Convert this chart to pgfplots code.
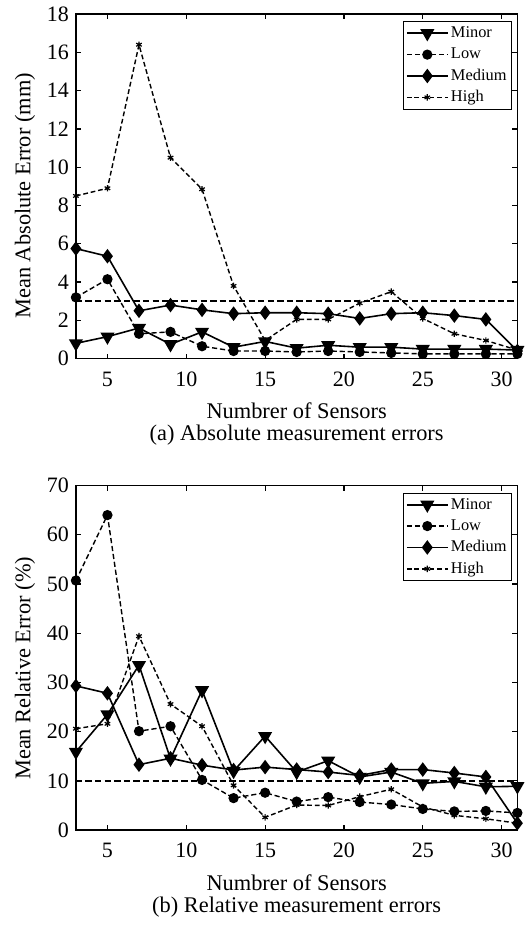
\documentclass[border=0pt]{standalone}
\usepackage{fontspec}
\setmainfont{Liberation Serif}
\usepackage{pgfplots}
\usepackage{pgfplotstable}
\pgfplotsset{compat=1.18}

\pgfplotstableread{
x minor low medium high
3  0.80 3.20 5.75 8.50
5  1.15 4.15 5.35 8.90
7  1.60 1.30 2.50 16.40
9  0.75 1.40 2.80 10.50
11 1.40 0.65 2.55 8.85
13 0.60 0.40 2.35 3.80
15 0.90 0.40 2.40 0.95
17 0.55 0.35 2.40 2.05
19 0.70 0.40 2.35 2.05
21 0.60 0.35 2.10 2.90
23 0.60 0.30 2.35 3.50
25 0.50 0.25 2.40 2.10
27 0.50 0.25 2.25 1.30
29 0.50 0.25 2.05 0.95
31 0.45 0.25 0.40 0.45
}\tabA

\pgfplotstableread{
x minor low medium high
3  15.9 50.7 29.3 20.6
5  23.5 64.0 27.8 21.6
7  33.5 20.1 13.3 39.4
9  14.5 21.1 14.6 25.6
11 28.4 10.2 13.2 21.1
13 12.0 6.5  12.2 9.1
15 19.1 7.6  12.8 2.6
17 11.8 5.8  12.3 5.1
19 14.1 6.7  11.8 5.0
21 10.8 5.7  11.1 6.8
23 11.8 5.2  12.3 8.3
25 9.5  4.3  12.3 4.7
27 9.9  3.8  11.6 3.0
29 8.8  3.9  10.8 2.3
31 8.9  3.5  1.4  1.4
}\tabB

\pgfplotsset{
  myaxis/.style={
    scale only axis, width=221pt, height=172.5pt,
    anchor=south west,
    xmin=3, xmax=31, xtick={5,10,...,30},
    tick align=inside, xtick pos=both, ytick pos=both,
    major tick length=2.5pt,
    axis line style={line width=0.7pt},
    every tick/.style={black, line width=0.6pt},
    /pgf/number format/assume math mode=true,
    tick label style={font=\fontsize{11}{13}\selectfont},
    xticklabel style={yshift=-3pt},
    label style={font=\fontsize{11.2}{13}\selectfont},
    xlabel style={at={(axis description cs:0.5,0)}, anchor=base, yshift=-30pt},
    clip=false,
    legend cell align=left,
    legend style={at={(axis description cs:1,1)}, anchor=north east,
      xshift=-2.5pt, yshift=-3.5pt,
      font=\fontsize{8.2}{9}\selectfont, draw=black, line width=0.5pt,
      inner xsep=1.5pt, inner ysep=0.5pt,
      nodes={inner sep=1.2pt, text height=6.3pt, text depth=2pt}},
    legend image code/.code={\draw[mark repeat=2,mark phase=2,##1] plot coordinates {(0pt,0pt) (10.25pt,0pt) (20.5pt,0pt)};},
  },
  sMinor/.style={black, solid, line width=0.8pt, mark=triangle*, mark size=3.3pt, mark options={rotate=180, solid, fill=black}},
  sLow/.style={black, dash pattern=on 2.6pt off 1.4pt, line width=0.7pt, mark=*, mark size=2.2pt, mark options={solid, fill=black}},
  sMed/.style={black, solid, line width=0.8pt, mark=diamond*, mark size=3pt, mark options={solid, fill=black}},
  sHigh/.style={black, dash pattern=on 2.4pt off 1.4pt, line width=0.7pt, mark=asterisk, mark size=1.6pt, mark options={solid, line width=0.6pt}},
  sRef/.style={black, dash pattern=on 3.2pt off 1.6pt, line width=0.9pt, no marks},
}

\begin{document}
\begin{tikzpicture}
\path (-38pt,179pt) rectangle (226pt,-284.5pt);

\begin{axis}[myaxis, at={(0pt,0pt)},
  ymin=0, ymax=18, ytick={0,2,...,18},
  xlabel={Numbrer of Sensors},
  ylabel={Mean Absolute Error (mm)},
  ylabel style={at={(axis description cs:-0.1154,0.4725)}, anchor=center},
]
\addplot[sRef, forget plot] coordinates {(3,3) (31,3)};
\addplot[sMinor] table[x=x,y=minor] {\tabA};
\addplot[sLow] table[x=x,y=low] {\tabA};
\addplot[sMed] table[x=x,y=medium] {\tabA};
\addplot[sHigh] table[x=x,y=high] {\tabA};
\legend{Minor,Low,Medium,High}
\end{axis}
\node[anchor=base, font=\fontsize{11.2}{13}\selectfont] at (110.5pt,-41pt) {(a) Absolute measurement errors};

\begin{axis}[myaxis, at={(0pt,-236pt)},
  ymin=0, ymax=70, ytick={0,10,...,70},
  xlabel={Numbrer of Sensors},
  ylabel={Mean Relative Error (\%)},
  ylabel style={at={(axis description cs:-0.1154,0.4696)}, anchor=center},
]
\addplot[sRef, forget plot] coordinates {(3,10) (31,10)};
\addplot[sMinor] table[x=x,y=minor] {\tabB};
\addplot[sLow] table[x=x,y=low] {\tabB};
\addplot[sMed] table[x=x,y=medium] {\tabB};
\addplot[sHigh] table[x=x,y=high] {\tabB};
\legend{Minor,Low,Medium,High}
\end{axis}
\node[anchor=base, font=\fontsize{11.2}{13}\selectfont] at (110.5pt,-277pt) {(b) Relative measurement errors};
\end{tikzpicture}
\end{document}
